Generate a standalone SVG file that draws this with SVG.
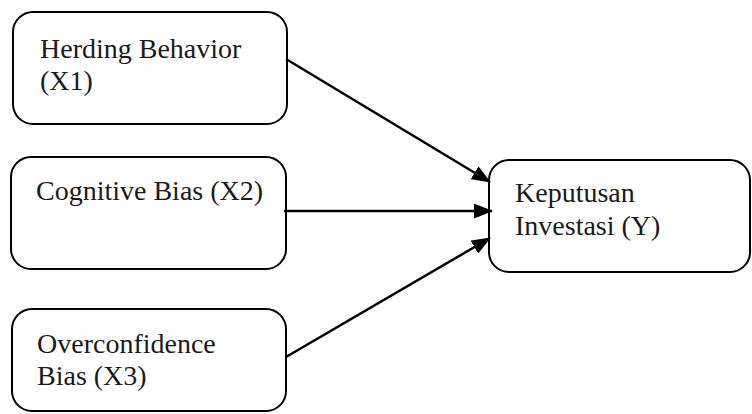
<svg xmlns="http://www.w3.org/2000/svg" width="752" height="414" viewBox="0 0 752 414">
<style>
.box{fill:#fff;stroke:#000;stroke-width:2}
.t{font-family:"Liberation Serif","Times New Roman",serif;font-size:28px;fill:#1a1a1a}
.c{stroke:#000;stroke-width:2.5;fill:none}
</style>
<defs>
<marker id="ah" markerUnits="userSpaceOnUse" markerWidth="19" markerHeight="15" refX="18" refY="7.5" orient="auto">
<path d="M0,0 L19,7.5 L0,15 Z" fill="#000"/>
</marker>
</defs>
<rect width="752" height="414" fill="#fff"/>
<g id="x1">
<rect class="box" x="13" y="12" width="274" height="112" rx="20"/>
<text class="t" x="40" y="58">Herding Behavior</text>
<text class="t" x="40" y="90">(X1)</text>
</g>
<g id="x2">
<rect class="box" x="11" y="157" width="275" height="112" rx="20"/>
<text class="t" x="36" y="200">Cognitive Bias (X2)</text>
</g>
<g id="x3">
<rect class="box" x="12" y="309" width="274" height="102" rx="20"/>
<text class="t" x="37" y="353">Overconfidence</text>
<text class="t" x="37" y="385">Bias (X3)</text>
</g>
<g id="y">
<rect class="box" x="489" y="160" width="261" height="112" rx="20"/>
<text class="t" x="515" y="202">Keputusan</text>
<text class="t" x="515" y="235">Investasi (Y)</text>
</g>
<g id="connectors">
<line class="c" x1="286" y1="59" x2="490" y2="182" marker-end="url(#ah)"/>
<line class="c" x1="284" y1="211" x2="492" y2="211" marker-end="url(#ah)"/>
<line class="c" x1="286" y1="357" x2="490" y2="238" marker-end="url(#ah)"/>
</g>
</svg>
